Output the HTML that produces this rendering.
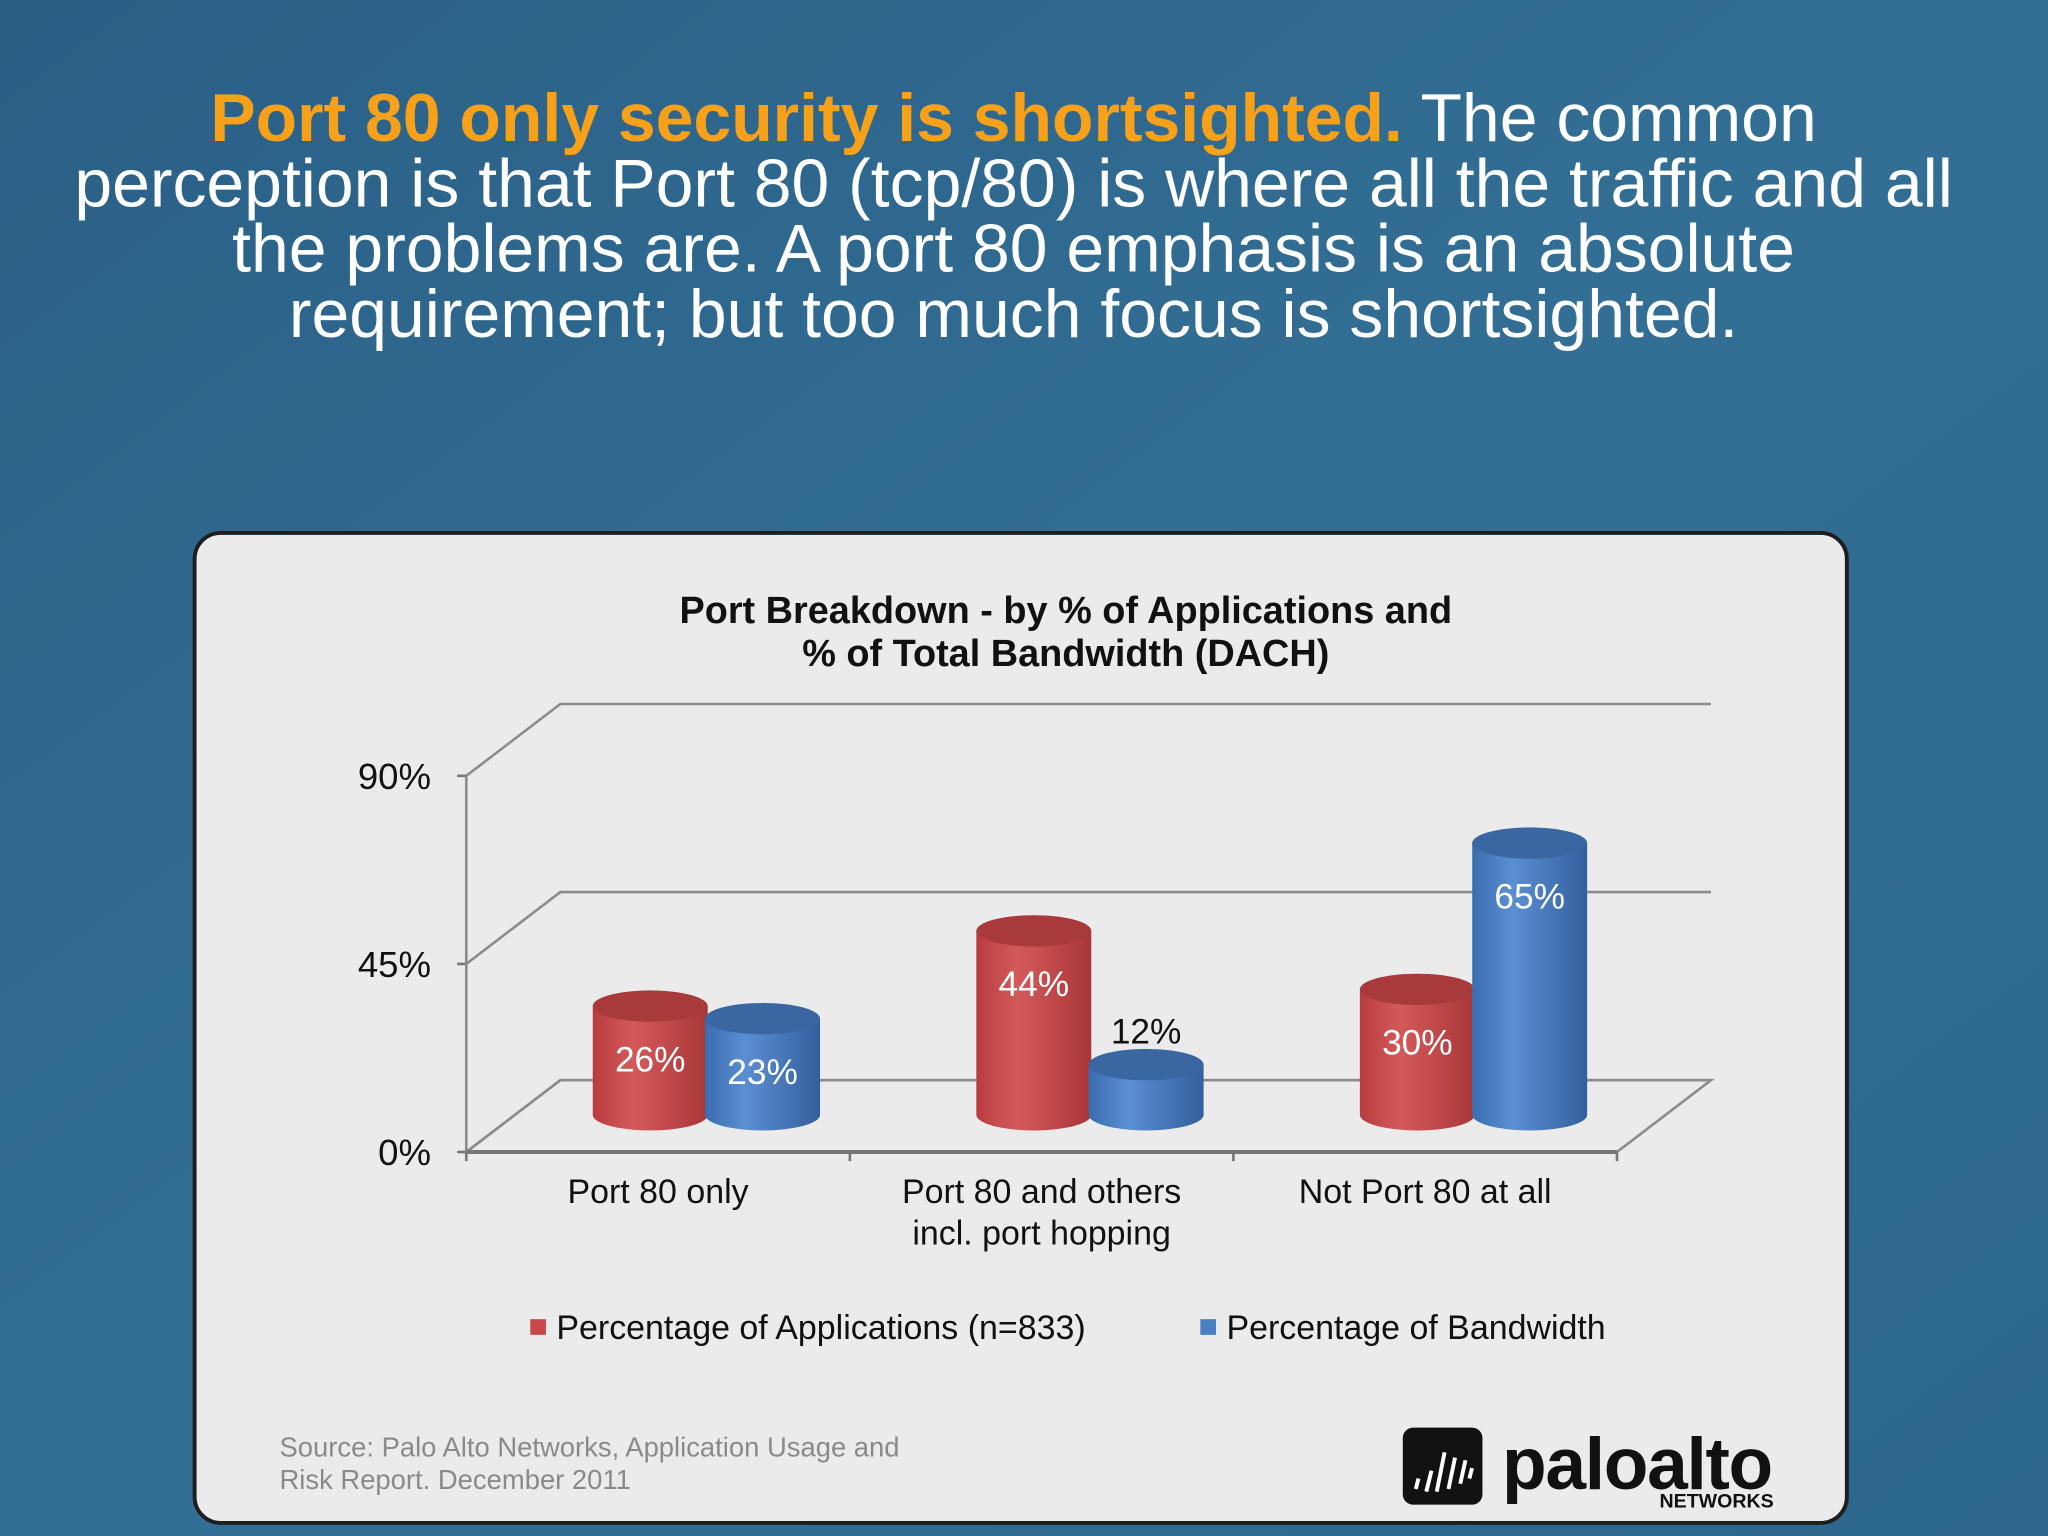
<!DOCTYPE html>
<html><head><meta charset="utf-8"><style>
html,body{margin:0;padding:0;}
body{width:2048px;height:1536px;overflow:hidden;background:#2f6a8f;}
svg{display:block;font-family:"Liberation Sans",sans-serif;}
</style></head><body>
<svg width="2048" height="1536" viewBox="0 0 1568 1176">
<defs>
<linearGradient id="bg" x1="0" y1="0" x2="1" y2="1">
<stop offset="0" stop-color="#2a5f86"/><stop offset="0.5" stop-color="#336f95"/><stop offset="1" stop-color="#2c668c"/></linearGradient>
<linearGradient id="rg" x1="0" x2="1"><stop offset="0" stop-color="#b83c3e"/><stop offset="0.35" stop-color="#d45a5a"/><stop offset="1" stop-color="#a93638"/></linearGradient>
<linearGradient id="bgr" x1="0" x2="1"><stop offset="0" stop-color="#3a6db0"/><stop offset="0.35" stop-color="#5a8fd2"/><stop offset="1" stop-color="#335f9e"/></linearGradient>
</defs>
<rect width="1568" height="1176" fill="url(#bg)"/>
<g font-size="52" fill="#fff" text-anchor="middle">
<text x="776" y="108"><tspan fill="#f7a11a" font-weight="bold">Port 80 only security is shortsighted.</tspan> The common</text>
<text x="776" y="158">perception is that Port 80 (tcp/80) is where all the traffic and all</text>
<text x="776" y="208">the problems are. A port 80 emphasis is an absolute</text>
<text x="776" y="258">requirement; but too much focus is shortsighted.</text>
</g>
<rect x="149" y="408" width="1265" height="758" rx="20" fill="#ebebeb" stroke="#1e1e1e" stroke-width="3"/>
<g font-size="29" font-weight="bold" fill="#111" text-anchor="middle">
<text x="816" y="477">Port Breakdown - by % of Applications and</text>
<text x="816" y="510">% of Total Bandwidth (DACH)</text>
</g>
<g id="chart"></g>
<g font-size="26" fill="#111">
<rect x="406" y="1010" width="12" height="12" fill="#c8474a"/>
<text x="426" y="1025">Percentage of Applications (n=833)</text>
<rect x="919" y="1010" width="12" height="12" fill="#4a7fc4"/>
<text x="939" y="1025">Percentage of Bandwidth</text>
</g>
<g font-size="21" fill="#8a8a8a">
<text x="214" y="1115">Source: Palo Alto Networks, Application Usage and</text>
<text x="214" y="1140">Risk Report. December 2011</text>
</g>
<g>
<rect x="1074" y="1093" width="61" height="59" rx="8" fill="#111"/>
<g stroke="#fff" stroke-width="3"><line x1="1084" y1="1140" x2="1086" y2="1132"/><line x1="1092" y1="1142" x2="1096" y2="1126"/><line x1="1100" y1="1142" x2="1106" y2="1112"/><line x1="1109" y1="1140" x2="1114" y2="1116"/><line x1="1118" y1="1136" x2="1122" y2="1118"/><line x1="1125" y1="1132" x2="1127" y2="1124"/></g>
<text x="1150" y="1140" font-size="56" fill="#111" font-weight="bold" letter-spacing="-1">paloalto</text>
<text x="1358" y="1154" font-size="15" fill="#111" font-weight="bold" text-anchor="end">NETWORKS</text>
</g>
</svg>
<script>
const categories = [["Port 80 only"],["Port 80 and others","incl. port hopping"],["Not Port 80 at all"]];
const appValues = [26, 44, 30];
const bwValues = [23, 12, 65];
const tickValues = [0, 45, 90];
const tickLabels = ["0%","45%","90%"];

const NS="http://www.w3.org/2000/svg";
const g=document.getElementById('chart');
function mk(t,a,p){const e=document.createElementNS(NS,t);for(const k in a)e.setAttribute(k,a[k]);(p||g).appendChild(e);return e;}
const x0=357,x1=1238,yBase=882,dx=72,dy=-55,ppv=288/90;
const yFront=v=>yBase-v*ppv;
const catW=(x1-x0)/categories.length;
const xCat=i=>x0+catW*(i+0.5);
mk('path',{d:`M${x0} ${yFront(0)} L${x0+dx} ${yFront(0)+dy} L${x1+dx} ${yFront(0)+dy} L${x1} ${yFront(0)}`,fill:'none',stroke:'#8c8c8c','stroke-width':2});
tickValues.forEach((v,i)=>{
  const y=yFront(v);
  const ln=mk('path',{d:`M${x0} ${y} L${x0+dx} ${y+dy} L${x1+dx} ${y+dy}`,fill:'none',stroke:'#8c8c8c','stroke-width':2});
  
  
  mk('line',{x1:x0-7,y1:y,x2:x0,y2:y,stroke:'#777','stroke-width':2});
  const t=mk('text',{x:330,y:y+10,'font-size':28,fill:'#111','text-anchor':'end'});
  t.textContent=tickLabels[i];
  
  
});
mk('line',{x1:x0,y1:yFront(90),x2:x0,y2:yBase,stroke:'#8c8c8c','stroke-width':2});
mk('line',{x1:x0,y1:yBase,x2:x1,y2:yBase,stroke:'#777','stroke-width':3});
for(let i=0;i<=categories.length;i++){const x=x0+catW*i;mk('line',{x1:x,y1:yBase,x2:x,y2:yBase+7,stroke:'#777','stroke-width':2});}
const bw=88,ry=12,baseY=yBase+dy/2-1;
function bar(cx,v,fill,top,name,label,inside){
  const top_y=baseY-v*ppv, l=cx-bw/2, r=cx+bw/2;
  const grp=mk('g',{});
  
  
  mk('path',{d:`M${l} ${top_y} L${l} ${baseY} A${bw/2} ${ry} 0 0 0 ${r} ${baseY} L${r} ${top_y} Z`,fill:fill},grp);
  mk('ellipse',{cx:cx,cy:top_y,rx:bw/2,ry:ry,fill:top},grp);
  const t=mk('text',{x:cx,y:inside?top_y+50:top_y-16,'font-size':27,fill:inside?'#fff':'#111','text-anchor':'middle'},grp);
  t.textContent=label;
  
  
}
const groupShift=dx/2+1;
categories.forEach((c,i)=>{
  const gc=xCat(i)+groupShift;
  bar(gc-43,appValues[i],'url(#rg)','#a83a3c','bar-applications-'+i,appValues[i]+'%',true);
  bar(gc+43,bwValues[i],'url(#bgr)','#3a66a2','bar-bandwidth-'+i,bwValues[i]+'%',bwValues[i]>=15);
  c.forEach((line,j)=>{
    const t=mk('text',{x:xCat(i),y:921+j*32,'font-size':26,fill:'#111','text-anchor':'middle'});
    t.textContent=line;
    
    
  });
});
</script>
</body></html>
